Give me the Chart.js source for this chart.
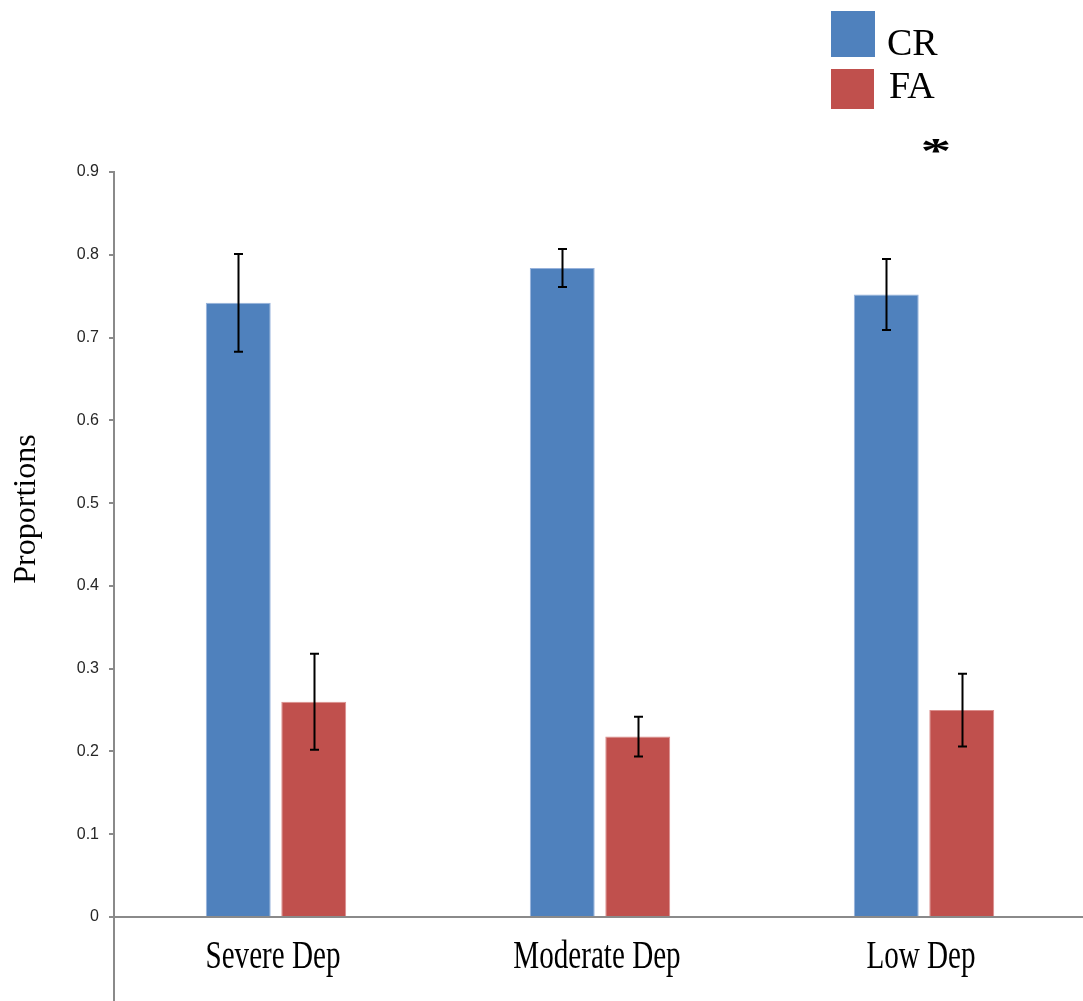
<!DOCTYPE html>
<html>
<head>
<meta charset="utf-8">
<title>Proportions by depression level</title>
<script src="https://cdn.jsdelivr.net/npm/chart.js@4/dist/chart.umd.min.js"></script>
<style>
  html, body { margin: 0; padding: 0; background: #ffffff; overflow: hidden; }
  #wrap { width: 1083px; height: 1001px; overflow: hidden; }
</style>
</head>
<body>
<div id="wrap"><canvas id="chart" width="1086" height="1001"></canvas></div>
<script>
// Groups along the x axis
const categories = ['Severe Dep', 'Moderate Dep', 'Low Dep'];

// Series labels
const seriesNames = ['CR', 'FA'];

// Mean proportions per group
const crValues = [0.742, 0.784, 0.752];
const faValues = [0.260, 0.218, 0.250];

// Error bar half-lengths
const crErrors = [0.059, 0.023, 0.043];
const faErrors = [0.058, 0.024, 0.044];

// Significance markers per group
const sigMarks = ['', '', '*'];

// Y axis ticks
const yTicks = [0, 0.1, 0.2, 0.3, 0.4, 0.5, 0.6, 0.7, 0.8, 0.9];

const BLUE = '#4F81BD';
const RED = '#C0504D';
const AXIS = '#8a8a8a';
const SERIF = '"Liberation Serif", "Times New Roman", serif';

// Black error bars with short caps, positioned through the chart's scales
const errorBars = {
  id: 'errorBars',
  afterDatasetsDraw(chart) {
    const ctx = chart.ctx;
    const y = chart.scales.y;
    ctx.save();
    ctx.strokeStyle = '#000000';
    ctx.lineWidth = 2;
    chart.data.datasets.forEach((ds, di) => {
      const meta = chart.getDatasetMeta(di);
      meta.data.forEach((bar, i) => {
        const v = ds.data[i];
        const e = ds.errors[i];
        const x = Math.round(bar.x) + 0.5;
        const yTop = y.getPixelForValue(v + e);
        const yBot = y.getPixelForValue(v - e);
        ctx.beginPath();
        ctx.moveTo(x, yTop);
        ctx.lineTo(x, yBot);
        ctx.moveTo(x - 4.5, yTop);
        ctx.lineTo(x + 4.5, yTop);
        ctx.moveTo(x - 4.5, yBot);
        ctx.lineTo(x + 4.5, yBot);
        ctx.stroke();
      });
    });
    ctx.restore();
  }
};

// Narrow serif category labels, the y title, the y axis tail below zero,
// the significance marker and the legend
const decorations = {
  id: 'decorations',
  afterDraw(chart) {
    const ctx = chart.ctx;
    const xs = chart.scales.x;
    const area = chart.chartArea;
    ctx.save();

    // y axis line continues below the zero line
    ctx.strokeStyle = AXIS;
    ctx.lineWidth = 2;
    ctx.beginPath();
    ctx.moveTo(area.left, area.bottom);
    ctx.lineTo(area.left, chart.height);
    ctx.stroke();

    // category labels
    ctx.fillStyle = '#000000';
    ctx.font = '41px ' + SERIF;
    ctx.textAlign = 'center';
    ctx.textBaseline = 'alphabetic';
    chart.data.labels.forEach((lab, i) => {
      const cx = xs.getPixelForValue(i);
      ctx.save();
      ctx.translate(cx - 3, area.bottom + 51);
      ctx.scale(0.71, 1);
      ctx.fillText(lab, 0, 0);
      ctx.restore();
    });

    // y axis title
    ctx.save();
    ctx.translate(35, 509);
    ctx.rotate(-Math.PI / 2);
    ctx.font = '32px ' + SERIF;
    ctx.textAlign = 'center';
    ctx.fillText('Proportions', 0, 0);
    ctx.restore();

    // significance markers
    ctx.font = 'bold 44px ' + SERIF;
    ctx.textAlign = 'center';
    sigMarks.forEach((m, i) => {
      if (!m) return;
      ctx.save();
      ctx.translate(xs.getPixelForValue(i) + 12, 163);
      ctx.scale(1.4, 0.8);
      ctx.fillText(m, 0, 0);
      ctx.restore();
    });

    // legend
    const rows = [
      { box: [831, 11, 44, 46], text: [887, 55] },
      { box: [831, 69, 43, 40], text: [889, 98] }
    ];
    ctx.font = '38px ' + SERIF;
    ctx.textAlign = 'left';
    chart.data.datasets.forEach((ds, di) => {
      const r = rows[di];
      ctx.fillStyle = ds.backgroundColor;
      ctx.fillRect(r.box[0], r.box[1], r.box[2], r.box[3]);
      ctx.fillStyle = '#000000';
      ctx.fillText(ds.label, r.text[0], r.text[1]);
    });

    ctx.restore();
  }
};

new Chart(document.getElementById('chart'), {
  type: 'bar',
  data: {
    labels: categories,
    datasets: [
      {
        label: seriesNames[0],
        data: crValues,
        errors: crErrors,
        backgroundColor: BLUE,
        borderColor: 'rgba(140,170,215,0.9)',
        borderWidth: 1,
        categoryPercentage: 0.466,
        barPercentage: 0.86
      },
      {
        label: seriesNames[1],
        data: faValues,
        errors: faErrors,
        backgroundColor: RED,
        borderColor: 'rgba(215,130,128,0.9)',
        borderWidth: 1,
        categoryPercentage: 0.466,
        barPercentage: 0.86
      }
    ]
  },
  options: {
    responsive: false,
    animation: false,
    devicePixelRatio: 1,
    layout: { padding: { left: 0, right: 0, top: 172, bottom: 84 } },
    plugins: {
      legend: { display: false },
      tooltip: { enabled: false },
      title: { display: false }
    },
    scales: {
      x: {
        type: 'category',
        offset: true,
        grid: { display: false, drawTicks: false },
        border: { display: true, color: AXIS, width: 2 },
        ticks: { display: false },
        afterFit(scale) { scale.height = 0; }
      },
      y: {
        min: 0,
        max: 0.9,
        afterBuildTicks(scale) { scale.ticks = yTicks.map(v => ({ value: v })); },
        ticks: {
          color: '#262626',
          font: { family: '"Liberation Sans", Arial, sans-serif', size: 16 },
          padding: 10,
          callback: v => String(Math.round(v * 10) / 10)
        },
        grid: {
          drawOnChartArea: false,
          drawTicks: true,
          tickLength: 5,
          color: AXIS,
          lineWidth: 2
        },
        border: { display: true, color: AXIS, width: 2 },
        afterFit(scale) { scale.width = 114; }
      }
    }
  },
  plugins: [errorBars, decorations]
});
</script>
</body>
</html>
